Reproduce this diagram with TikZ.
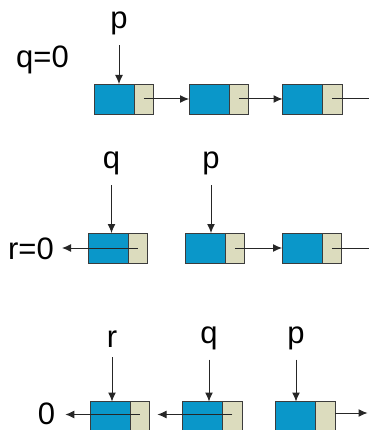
\documentclass[tikz,border=0pt]{standalone}
\usepackage{fontspec}
\setmainfont{Liberation Sans}
\usetikzlibrary{positioning,arrows.meta}

\definecolor{cellblue}{HTML}{0A97C9}
\definecolor{cellbeige}{HTML}{DCDCBE}
\definecolor{cellline}{HTML}{3C3C3C}

\tikzset{
  info/.style={draw=cellline, fill=cellblue, line width=0.9pt, minimum width=40pt, minimum height=30pt, inner sep=0pt, outer sep=0pt},
  link/.style={draw=cellline, fill=cellbeige, line width=0.9pt, minimum width=19.5pt, minimum height=30pt, inner sep=0pt, outer sep=0pt},
  lab/.style={font=\fontsize{31}{36}\selectfont, inner sep=0pt, anchor=base},
  ptr/.style={-{Latex[length=9pt,width=8pt]}, line width=1pt, draw=black!85},
  tail/.style={line width=1pt, draw=black!85},
}

\begin{document}
\begin{tikzpicture}[x=1pt,y=-1pt]
  \useasboundingbox (0,0) rectangle (368,430);

  % first state: q=0, p at the head
  \node[info] (a1) at (114,99) {};
  \node[link, right=0pt of a1] (a1n) {};
  \node[info] (a2) at (209,99) {};
  \node[link, right=0pt of a2] (a2n) {};
  \node[info] (a3) at (302.5,99) {};
  \node[link, right=0pt of a3] (a3n) {};
  \coordinate (e1) at (372,99);
  \draw[ptr] (a1n.center) -- (a2.west);
  \draw[ptr] (a2n.center) -- (a3.west);
  \draw[tail] (a3n.center) -- (e1);
  \node[lab] (q0) at (42.5,68) {q=0};
  \node[lab] (p1) at (119,28.5) {p};
  \draw[ptr] ([yshift=-10pt]p1.south) -- (p1.south |- a1.north);

  % second state: first link reversed
  \node[info] (b1) at (108,248) {};
  \node[link, right=0pt of b1] (b1n) {};
  \node[info] (b2) at (205,248) {};
  \node[link, right=0pt of b2] (b2n) {};
  \node[info] (b3) at (302,248) {};
  \node[link, right=0pt of b3] (b3n) {};
  \coordinate (e2) at (372,248);
  \node[lab] (r0) at (31,259) {r=0};
  \draw[ptr, shorten >=8pt] (b1n.center) -- (b1n.center -| r0.east);
  \draw[ptr] (b2n.center) -- (b3.west);
  \draw[tail] (b3n.center) -- (e2);
  \node[lab] (q2) at (111.5,168.5) {q};
  \node[lab] (p2) at (211,168.5) {p};
  \draw[ptr] ([yshift=-10pt]q2.south) -- (q2.south |- b1.north);
  \draw[ptr] ([yshift=-10pt]p2.south) -- (p2.south |- b2.north);

  % third state: two links reversed
  \node[info] (c1) at (110,416.5) {};
  \node[link, right=0pt of c1] (c1n) {};
  \node[info] (c2) at (202.5,416.5) {};
  \node[link, right=0pt of c2] (c2n) {};
  \node[info] (c3) at (295.5,416.5) {};
  \node[link, right=0pt of c3] (c3n) {};
  \coordinate (e3) at (367.5,413);
  \node[lab] (z0) at (46.5,424) {0};
  \draw[ptr, shorten >=10pt] ([yshift=2pt]c1n.center) -- ([yshift=2pt]c1n.center -| z0.east);
  \draw[ptr, shorten >=8pt] ([yshift=2pt]c2n.center) -- ([yshift=2pt]c2n.center -| c1n.east);
  \draw[ptr] (c3n.east |- e3) -- (e3);
  \node[lab] (r3) at (112,347) {r};
  \node[lab] (q3) at (209,343) {q};
  \node[lab] (p3) at (296,343) {p};
  \draw[ptr] (r3.south |- 0,357) -- (r3.south |- c1.north);
  \draw[ptr] ([yshift=-10pt]q3.south) -- (q3.south |- c2.north);
  \draw[ptr] ([yshift=-10pt]p3.south) -- (p3.south |- c3.north);
\end{tikzpicture}
\end{document}
